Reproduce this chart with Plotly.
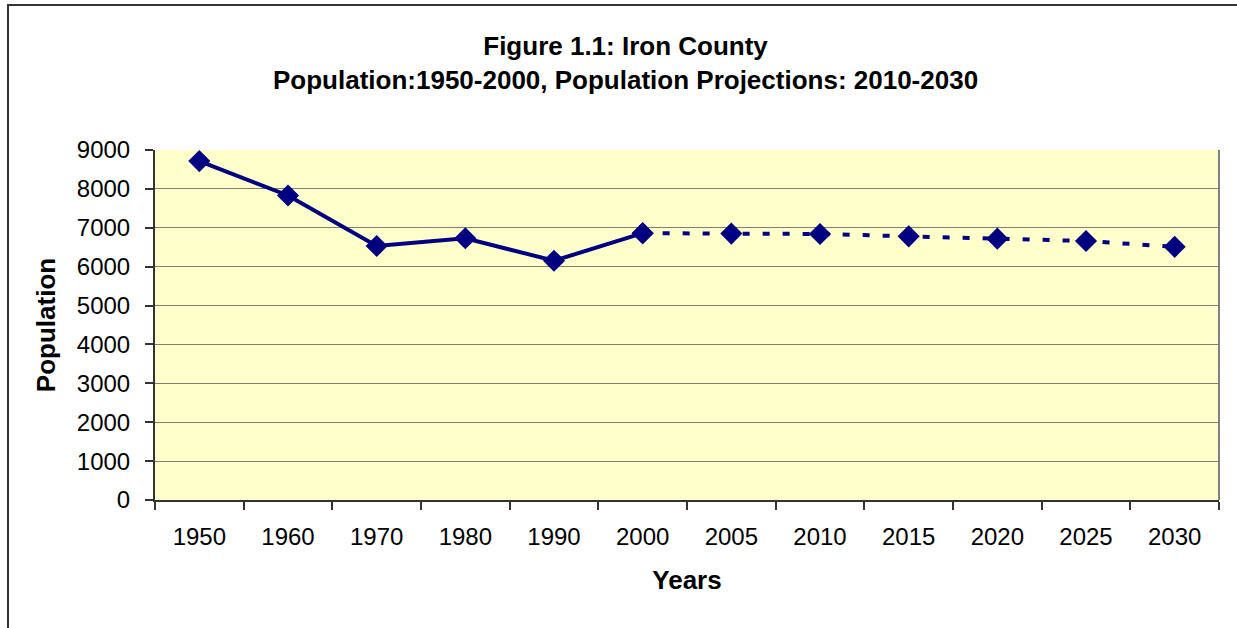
import plotly.graph_objects as go

categories = ["1950", "1960", "1970", "1980", "1990", "2000",
              "2005", "2010", "2015", "2020", "2025", "2030"]
hist_years = ["1950", "1960", "1970", "1980", "1990", "2000"]
hist_pop = [8714, 7830, 6533, 6730, 6153, 6861]
proj_years = ["2000", "2005", "2010", "2015", "2020", "2025", "2030"]
proj_pop = [6861, 6850, 6840, 6780, 6720, 6660, 6510]
y_ticks = [0, 1000, 2000, 3000, 4000, 5000, 6000, 7000, 8000, 9000]

W, H = 1237, 628
L, R, T, B = 155, 1219, 150, 500
pw, ph = R - L, B - T

def px_x(x):
    return (x - L) / pw

def px_y(y):
    return (B - y) / ph

navy = "#000080"
font = "Liberation Sans, Arial, sans-serif"

fig = go.Figure()
fig.add_trace(go.Scatter(
    x=proj_years, y=proj_pop, mode="lines+markers",
    line=dict(color=navy, width=4, dash="7px,13px"),
    marker=dict(symbol="diamond", size=17, color=navy),
    showlegend=False, cliponaxis=False))
fig.add_trace(go.Scatter(
    x=hist_years, y=hist_pop, mode="lines+markers",
    line=dict(color=navy, width=4),
    marker=dict(symbol="diamond", size=17, color=navy),
    showlegend=False, cliponaxis=False))

fig.update_layout(
    width=W, height=H,
    margin=dict(l=L, r=W - R, t=T, b=H - B, autoexpand=False),
    paper_bgcolor="white", plot_bgcolor="#FFFFCC",
    font=dict(family=font, color="black", size=24),
    xaxis=dict(type="category", categoryorder="array", categoryarray=categories,
               range=[-0.5, 11.5], tickson="boundaries", ticks="outside",
               ticklen=8, tickwidth=1.5, tickcolor="#333333",
               showline=True, linecolor="#333333", linewidth=2,
               showgrid=False, tickfont=dict(size=24), ticklabelstandoff=14,
               title=dict(text="<b>Years</b>", font=dict(size=26), standoff=22)),
    yaxis=dict(range=[0, 9000], tickvals=y_ticks, ticks="outside",
               ticklen=8, tickwidth=1.5, tickcolor="#333333",
               showline=True, linecolor="#333333", linewidth=2,
               showgrid=True, gridcolor="#7f7f70", gridwidth=1.2,
               zeroline=False, tickfont=dict(size=24), ticklabelstandoff=10,
               title=dict(text="<b>Population</b>", font=dict(size=26), standoff=14)),
)

# plot-area right border
fig.add_shape(type="line", xref="paper", yref="paper", x0=1, x1=1, y0=0, y1=1,
              line=dict(color="#808080", width=2), layer="above")
# outer chart border
fig.add_shape(type="rect", xref="paper", yref="paper",
              x0=px_x(8), x1=px_x(1245), y0=px_y(5), y1=px_y(640),
              line=dict(color="#333333", width=2), fillcolor="rgba(0,0,0,0)",
              layer="below")

fig.add_annotation(
    xref="paper", yref="paper", x=px_x(625), y=px_y(63),
    text="<b>Figure 1.1: Iron County<br>Population:1950-2000, Population Projections: 2010-2030</b>",
    showarrow=False, font=dict(size=26, family=font), align="center",
    xanchor="center", yanchor="middle")

fig.write_html("out.html", config={"displayModeBar": False},
               post_script="document.body.style.margin='0';document.body.style.overflow='hidden';")
